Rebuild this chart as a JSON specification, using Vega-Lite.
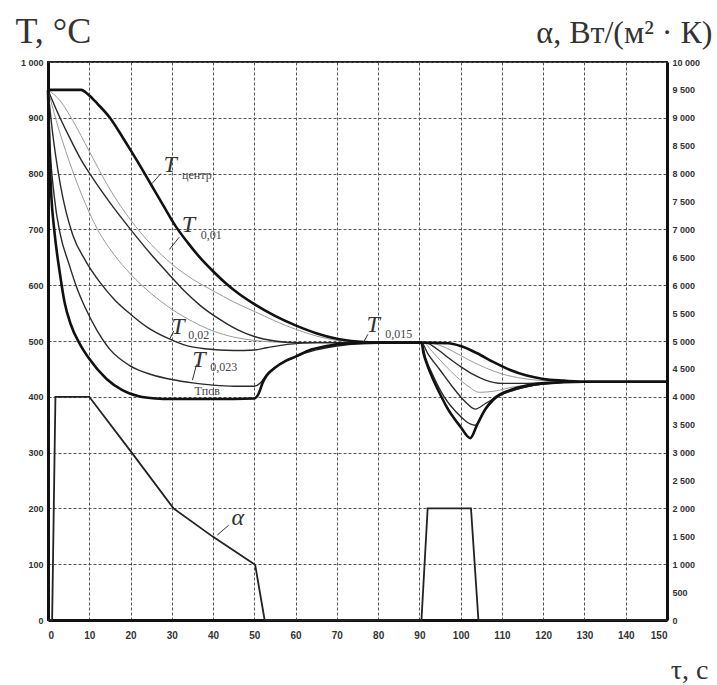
{
  "$schema": "https://vega.github.io/schema/vega-lite/v6.json",
  "width": 619,
  "height": 558,
  "autosize": "none",
  "padding": {"left": 48, "top": 62, "right": 50, "bottom": 65},
  "background": "white",
  "config": {
    "view": {"stroke": "#222", "strokeWidth": 2},
    "font": "Liberation Sans",
    "axis": {"labelFont": "Liberation Sans", "labelFontWeight": "bold", "labelColor": "#333", "labelFontSize": 9, "ticks": false, "domainColor": "#111", "domainWidth": 3}
  },
  "datasets": {
    "temps": [
      {"s": "centr", "t": 0, "T": 950}, {"s": "centr", "t": 8, "T": 950}, {"s": "centr", "t": 10, "T": 940}, {"s": "centr", "t": 12, "T": 925}, {"s": "centr", "t": 15, "T": 900}, {"s": "centr", "t": 18, "T": 866}, {"s": "centr", "t": 20, "T": 842}, {"s": "centr", "t": 22, "T": 818}, {"s": "centr", "t": 25, "T": 780}, {"s": "centr", "t": 28, "T": 742}, {"s": "centr", "t": 31, "T": 705}, {"s": "centr", "t": 34, "T": 675}, {"s": "centr", "t": 37, "T": 648}, {"s": "centr", "t": 40, "T": 625}, {"s": "centr", "t": 43, "T": 604}, {"s": "centr", "t": 46, "T": 586}, {"s": "centr", "t": 50, "T": 566}, {"s": "centr", "t": 55, "T": 545}, {"s": "centr", "t": 60, "T": 528}, {"s": "centr", "t": 65, "T": 514}, {"s": "centr", "t": 70, "T": 504}, {"s": "centr", "t": 75, "T": 499}, {"s": "centr", "t": 80, "T": 497}, {"s": "centr", "t": 90, "T": 497}, {"s": "centr", "t": 97, "T": 496}, {"s": "centr", "t": 100, "T": 491}, {"s": "centr", "t": 104, "T": 478}, {"s": "centr", "t": 108, "T": 462}, {"s": "centr", "t": 112, "T": 448}, {"s": "centr", "t": 116, "T": 438}, {"s": "centr", "t": 120, "T": 432}, {"s": "centr", "t": 125, "T": 429}, {"s": "centr", "t": 130, "T": 427}, {"s": "centr", "t": 150, "T": 427},

      {"s": "c005", "t": 0, "T": 950}, {"s": "c005", "t": 3, "T": 930}, {"s": "c005", "t": 6, "T": 895}, {"s": "c005", "t": 10, "T": 840}, {"s": "c005", "t": 15, "T": 772}, {"s": "c005", "t": 20, "T": 717}, {"s": "c005", "t": 25, "T": 673}, {"s": "c005", "t": 30, "T": 638}, {"s": "c005", "t": 35, "T": 611}, {"s": "c005", "t": 40, "T": 590}, {"s": "c005", "t": 45, "T": 570}, {"s": "c005", "t": 50, "T": 553}, {"s": "c005", "t": 55, "T": 536}, {"s": "c005", "t": 60, "T": 521}, {"s": "c005", "t": 65, "T": 509}, {"s": "c005", "t": 70, "T": 501}, {"s": "c005", "t": 75, "T": 498}, {"s": "c005", "t": 80, "T": 497}, {"s": "c005", "t": 92, "T": 497}, {"s": "c005", "t": 95, "T": 492}, {"s": "c005", "t": 98, "T": 482}, {"s": "c005", "t": 102, "T": 466}, {"s": "c005", "t": 106, "T": 452}, {"s": "c005", "t": 110, "T": 441}, {"s": "c005", "t": 115, "T": 433}, {"s": "c005", "t": 120, "T": 429}, {"s": "c005", "t": 130, "T": 427}, {"s": "c005", "t": 150, "T": 427},

      {"s": "c01", "t": 0, "T": 950}, {"s": "c01", "t": 2, "T": 915}, {"s": "c01", "t": 5, "T": 868}, {"s": "c01", "t": 8, "T": 825}, {"s": "c01", "t": 11, "T": 790}, {"s": "c01", "t": 15, "T": 748}, {"s": "c01", "t": 20, "T": 700}, {"s": "c01", "t": 25, "T": 655}, {"s": "c01", "t": 29, "T": 622}, {"s": "c01", "t": 33, "T": 590}, {"s": "c01", "t": 37, "T": 563}, {"s": "c01", "t": 42, "T": 537}, {"s": "c01", "t": 46, "T": 520}, {"s": "c01", "t": 50, "T": 508}, {"s": "c01", "t": 55, "T": 500}, {"s": "c01", "t": 60, "T": 497}, {"s": "c01", "t": 91.5, "T": 497}, {"s": "c01", "t": 94, "T": 487}, {"s": "c01", "t": 97, "T": 470}, {"s": "c01", "t": 100, "T": 454}, {"s": "c01", "t": 103, "T": 440}, {"s": "c01", "t": 106, "T": 430}, {"s": "c01", "t": 110, "T": 424}, {"s": "c01", "t": 116, "T": 424}, {"s": "c01", "t": 125, "T": 427}, {"s": "c01", "t": 150, "T": 427},

      {"s": "c015", "t": 0, "T": 950}, {"s": "c015", "t": 2, "T": 895}, {"s": "c015", "t": 5, "T": 825}, {"s": "c015", "t": 8, "T": 765}, {"s": "c015", "t": 12, "T": 700}, {"s": "c015", "t": 16, "T": 655}, {"s": "c015", "t": 20, "T": 620}, {"s": "c015", "t": 25, "T": 585}, {"s": "c015", "t": 30, "T": 557}, {"s": "c015", "t": 35, "T": 535}, {"s": "c015", "t": 40, "T": 518}, {"s": "c015", "t": 45, "T": 507}, {"s": "c015", "t": 50, "T": 501}, {"s": "c015", "t": 55, "T": 498}, {"s": "c015", "t": 60, "T": 497}, {"s": "c015", "t": 91, "T": 497}, {"s": "c015", "t": 93, "T": 482}, {"s": "c015", "t": 96, "T": 458}, {"s": "c015", "t": 99, "T": 436}, {"s": "c015", "t": 102, "T": 418}, {"s": "c015", "t": 104.5, "T": 408}, {"s": "c015", "t": 108, "T": 410}, {"s": "c015", "t": 113, "T": 418}, {"s": "c015", "t": 120, "T": 424}, {"s": "c015", "t": 130, "T": 427}, {"s": "c015", "t": 150, "T": 427},

      {"s": "c02", "t": 0, "T": 950}, {"s": "c02", "t": 1, "T": 880}, {"s": "c02", "t": 3, "T": 780}, {"s": "c02", "t": 6, "T": 690}, {"s": "c02", "t": 9, "T": 645}, {"s": "c02", "t": 12.6, "T": 605}, {"s": "c02", "t": 16, "T": 575}, {"s": "c02", "t": 20, "T": 548}, {"s": "c02", "t": 24, "T": 525}, {"s": "c02", "t": 29, "T": 505}, {"s": "c02", "t": 33, "T": 493}, {"s": "c02", "t": 38, "T": 486}, {"s": "c02", "t": 45, "T": 483}, {"s": "c02", "t": 50, "T": 484}, {"s": "c02", "t": 53, "T": 488}, {"s": "c02", "t": 58, "T": 494}, {"s": "c02", "t": 65, "T": 497}, {"s": "c02", "t": 90.5, "T": 497}, {"s": "c02", "t": 92, "T": 478}, {"s": "c02", "t": 95, "T": 448}, {"s": "c02", "t": 98, "T": 418}, {"s": "c02", "t": 101, "T": 392}, {"s": "c02", "t": 103.5, "T": 378}, {"s": "c02", "t": 106, "T": 388}, {"s": "c02", "t": 110, "T": 405}, {"s": "c02", "t": 116, "T": 418}, {"s": "c02", "t": 125, "T": 426}, {"s": "c02", "t": 150, "T": 427},

      {"s": "c023", "t": 0, "T": 950}, {"s": "c023", "t": 0.5, "T": 850}, {"s": "c023", "t": 1.5, "T": 760}, {"s": "c023", "t": 3, "T": 690}, {"s": "c023", "t": 5, "T": 640}, {"s": "c023", "t": 7, "T": 595}, {"s": "c023", "t": 9, "T": 560}, {"s": "c023", "t": 11.8, "T": 520}, {"s": "c023", "t": 15, "T": 485}, {"s": "c023", "t": 20, "T": 455}, {"s": "c023", "t": 25, "T": 440}, {"s": "c023", "t": 30, "T": 431}, {"s": "c023", "t": 35, "T": 425}, {"s": "c023", "t": 40, "T": 421}, {"s": "c023", "t": 45, "T": 419}, {"s": "c023", "t": 50, "T": 419}, {"s": "c023", "t": 51.5, "T": 425}, {"s": "c023", "t": 53, "T": 440}, {"s": "c023", "t": 56, "T": 458}, {"s": "c023", "t": 60, "T": 472}, {"s": "c023", "t": 65, "T": 484}, {"s": "c023", "t": 70, "T": 491}, {"s": "c023", "t": 75, "T": 495}, {"s": "c023", "t": 80, "T": 497}, {"s": "c023", "t": 90.5, "T": 497}, {"s": "c023", "t": 91.5, "T": 470}, {"s": "c023", "t": 93.5, "T": 435}, {"s": "c023", "t": 96, "T": 400}, {"s": "c023", "t": 99, "T": 372}, {"s": "c023", "t": 103.5, "T": 349}, {"s": "c023", "t": 105.5, "T": 372}, {"s": "c023", "t": 108, "T": 394}, {"s": "c023", "t": 113, "T": 412}, {"s": "c023", "t": 120, "T": 423}, {"s": "c023", "t": 130, "T": 427}, {"s": "c023", "t": 150, "T": 427},

      {"s": "surf", "t": 0, "T": 950}, {"s": "surf", "t": 0.3, "T": 850}, {"s": "surf", "t": 0.8, "T": 760}, {"s": "surf", "t": 1.5, "T": 700}, {"s": "surf", "t": 2.9, "T": 620}, {"s": "surf", "t": 4, "T": 570}, {"s": "surf", "t": 5.5, "T": 530}, {"s": "surf", "t": 7.7, "T": 495}, {"s": "surf", "t": 10, "T": 468}, {"s": "surf", "t": 14.2, "T": 432}, {"s": "surf", "t": 18, "T": 412}, {"s": "surf", "t": 22, "T": 401}, {"s": "surf", "t": 26, "T": 397}, {"s": "surf", "t": 30, "T": 396}, {"s": "surf", "t": 40, "T": 396}, {"s": "surf", "t": 50, "T": 397}, {"s": "surf", "t": 51, "T": 405}, {"s": "surf", "t": 52, "T": 425}, {"s": "surf", "t": 53, "T": 438}, {"s": "surf", "t": 55, "T": 452}, {"s": "surf", "t": 57.5, "T": 464}, {"s": "surf", "t": 60, "T": 472}, {"s": "surf", "t": 63.5, "T": 484}, {"s": "surf", "t": 67, "T": 490}, {"s": "surf", "t": 70, "T": 494}, {"s": "surf", "t": 75, "T": 496}, {"s": "surf", "t": 80, "T": 497}, {"s": "surf", "t": 90.5, "T": 497}, {"s": "surf", "t": 91, "T": 478}, {"s": "surf", "t": 92, "T": 455}, {"s": "surf", "t": 93.4, "T": 430}, {"s": "surf", "t": 95, "T": 405}, {"s": "surf", "t": 96.6, "T": 382}, {"s": "surf", "t": 100, "T": 346}, {"s": "surf", "t": 102.3, "T": 326}, {"s": "surf", "t": 104, "T": 350}, {"s": "surf", "t": 106, "T": 378}, {"s": "surf", "t": 108, "T": 396}, {"s": "surf", "t": 112, "T": 412}, {"s": "surf", "t": 116, "T": 420}, {"s": "surf", "t": 120, "T": 424}, {"s": "surf", "t": 130, "T": 427}, {"s": "surf", "t": 150, "T": 427}
    ],
    "alpha": [
      {"t": 0, "a": 0}, {"t": 1, "a": 0}, {"t": 1.8, "a": 4000}, {"t": 10, "a": 4000}, {"t": 20.7, "a": 2960}, {"t": 30.4, "a": 2000}, {"t": 40, "a": 1490}, {"t": 50.2, "a": 990}, {"t": 52.5, "a": 0}, {"t": 90.5, "a": 0}, {"t": 92, "a": 2000}, {"t": 102.5, "a": 2000}, {"t": 104.3, "a": 0}, {"t": 150, "a": 0}
    ],
    "mainLabels": [
      {"txt": "T", "t": 29.6, "T": 815},
      {"txt": "T", "t": 34, "T": 708},
      {"txt": "T", "t": 31.5, "T": 525},
      {"txt": "T", "t": 36.6, "T": 466},
      {"txt": "T", "t": 78.8, "T": 528},
      {"txt": "α", "t": 46, "T": 183}
    ],
    "subLabels": [
      {"txt": "центр", "t": 32.5, "T": 797},
      {"txt": "0,01", "t": 37, "T": 690},
      {"txt": "0,02", "t": 34, "T": 510},
      {"txt": "0,023", "t": 39.3, "T": 453},
      {"txt": "0,015", "t": 81.7, "T": 512},
      {"txt": "Tпов", "t": 35.5, "T": 411}
    ],
    "pointers": [
      {"id": 1, "t": 27.3, "T": 800}, {"id": 1, "t": 25.2, "T": 782},
      {"id": 2, "t": 31.8, "T": 686}, {"id": 2, "t": 29.4, "T": 664},
      {"id": 3, "t": 30.5, "T": 518}, {"id": 3, "t": 29.5, "T": 504},
      {"id": 4, "t": 36, "T": 458}, {"id": 4, "t": 35, "T": 430},
      {"id": 5, "t": 77.5, "T": 512}, {"id": 5, "t": 76.5, "T": 498},
      {"id": 6, "t": 43.8, "T": 170}, {"id": 6, "t": 41, "T": 152}
    ]
  },
  "layer": [
    {
      "layer": [
        {
          "data": {"name": "temps"},
          "transform": [{"filter": {"field": "s", "oneOf": ["c005", "c015"]}}],
          "mark": {"type": "line", "interpolate": "monotone", "color": "#9a9a9a", "strokeWidth": 1},
          "encoding": {
            "x": {"field": "t", "type": "quantitative", "scale": {"domain": [0, 150], "nice": false},
              "axis": {"values": [0,10,20,30,40,50,60,70,80,90,100,110,120,130,140,150], "grid": true, "gridDash": [3, 2], "gridColor": "#555", "gridWidth": 1, "labelFontSize": 10, "labelPadding": 10,
                "title": "τ, с", "titleFont": "Liberation Serif", "titleFontSize": 28, "titleFontWeight": "normal", "titleColor": "#333", "titleAlign": "right", "titleBaseline": "alphabetic", "titleX": 660, "titleY": 58}},
            "y": {"field": "T", "type": "quantitative", "scale": {"domain": [0, 1000], "nice": false},
              "axis": {"values": [0,50,100,150,200,250,300,350,400,450,500,550,600,650,700,750,800,850,900,950,1000], "grid": true, "gridDash": [3, 2], "gridColor": "#555", "gridWidth": 1, "labelPadding": 5,
                "labelExpr": "replace(format(datum.value, ',d'), ',', ' ')",
                "title": "T, °C", "titleFont": "Liberation Serif", "titleFontSize": 36, "titleFontWeight": "normal", "titleColor": "#333", "titleAngle": 0, "titleAlign": "left", "titleBaseline": "alphabetic", "titleX": -33, "titleY": -20}},
            "detail": {"field": "s"}
          }
        },
        {
          "data": {"name": "temps"},
          "transform": [{"filter": {"field": "s", "oneOf": ["c01", "c02", "c023"]}}],
          "mark": {"type": "line", "interpolate": "monotone", "color": "#2a2a2a", "strokeWidth": 1.4},
          "encoding": {
            "x": {"field": "t", "type": "quantitative"},
            "y": {"field": "T", "type": "quantitative"},
            "detail": {"field": "s"}
          }
        },
        {
          "data": {"name": "temps"},
          "transform": [{"filter": {"field": "s", "oneOf": ["centr", "surf"]}}],
          "mark": {"type": "line", "interpolate": "monotone", "color": "#111", "strokeWidth": 2.6},
          "encoding": {
            "x": {"field": "t", "type": "quantitative"},
            "y": {"field": "T", "type": "quantitative"},
            "detail": {"field": "s"}
          }
        },
        {
          "data": {"name": "pointers"},
          "mark": {"type": "line", "color": "#333", "strokeWidth": 1},
          "encoding": {
            "x": {"field": "t", "type": "quantitative"},
            "y": {"field": "T", "type": "quantitative"},
            "detail": {"field": "id"}
          }
        },
        {
          "data": {"name": "mainLabels"},
          "mark": {"type": "text", "font": "Liberation Serif", "fontStyle": "italic", "fontSize": 24, "color": "#333", "align": "center", "baseline": "middle"},
          "encoding": {
            "x": {"field": "t", "type": "quantitative"},
            "y": {"field": "T", "type": "quantitative"},
            "text": {"field": "txt"}
          }
        },
        {
          "data": {"name": "subLabels"},
          "mark": {"type": "text", "font": "Liberation Serif", "fontSize": 12, "color": "#444", "align": "left", "baseline": "middle"},
          "encoding": {
            "x": {"field": "t", "type": "quantitative"},
            "y": {"field": "T", "type": "quantitative"},
            "text": {"field": "txt"}
          }
        }
      ]
    },
    {
      "data": {"name": "alpha"},
      "mark": {"type": "line", "color": "#222", "strokeWidth": 1.8},
      "encoding": {
        "x": {"field": "t", "type": "quantitative"},
        "y": {"field": "a", "type": "quantitative", "scale": {"domain": [0, 10000], "nice": false},
          "axis": {"orient": "right", "values": [0,500,1000,1500,2000,2500,3000,3500,4000,4500,5000,5500,6000,6500,7000,7500,8000,8500,9000,9500,10000], "grid": false, "labelPadding": 5,
            "labelExpr": "replace(format(datum.value, ',d'), ',', ' ')",
            "title": "α, Вт/(м² · К)", "titleFont": "Liberation Serif", "titleFontSize": 32, "titleFontWeight": "normal", "titleColor": "#333", "titleAngle": 0, "titleAlign": "right", "titleBaseline": "alphabetic", "titleX": 45, "titleY": -20}}
      }
    }
  ],
  "resolve": {"scale": {"y": "independent"}}
}
